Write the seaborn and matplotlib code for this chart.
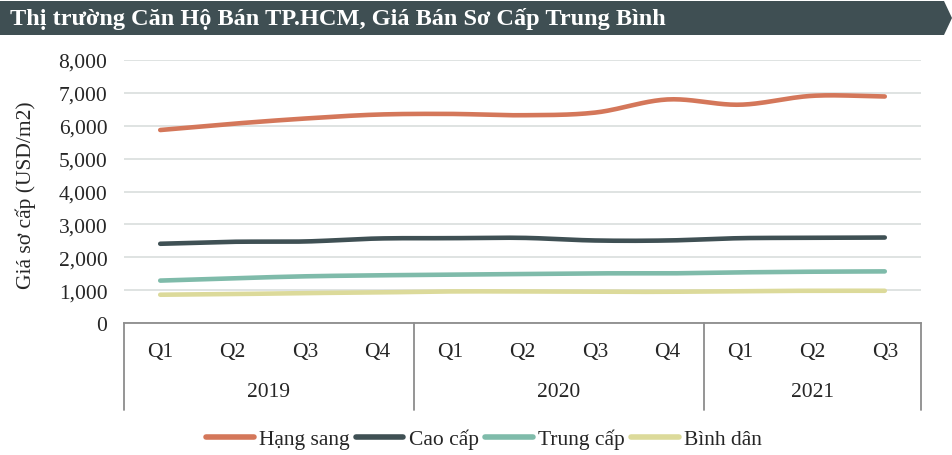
import numpy as np
import pandas as pd
import matplotlib
matplotlib.use("Agg")
import matplotlib.pyplot as plt
from matplotlib.patches import Polygon
from matplotlib.lines import Line2D
import seaborn as sns

# data
quarters = ["Q1", "Q2", "Q3", "Q4", "Q1", "Q2", "Q3", "Q4", "Q1", "Q2", "Q3"]
years = ["2019", "2020", "2021"]
year_sizes = [4, 4, 3]

hang_sang = [5870, 6060, 6220, 6340, 6360, 6320, 6400, 6800, 6640, 6910, 6890]
cao_cap = [2410, 2470, 2480, 2570, 2580, 2590, 2510, 2510, 2580, 2590, 2600]
trung_cap = [1290, 1360, 1420, 1450, 1470, 1490, 1510, 1510, 1540, 1560, 1570]
binh_dan = [860, 880, 910, 930, 960, 960, 950, 950, 970, 980, 980]

series_names = ["Hạng sang", "Cao cấp", "Trung cấp", "Bình dân"]
series_values = [hang_sang, cao_cap, trung_cap, binh_dan]
colors = ["#D4775A", "#3F5054", "#7FBBAA", "#DCDA9A"]

title = "Thị trường Căn Hộ Bán TP.HCM, Giá Bán Sơ Cấp Trung Bình"
ylabel = "Giá sơ cấp (USD/m2)"


def smooth(y, steps=24):
    # catmull-rom style smoothing like Excel's "smoothed line"
    y = np.asarray(y, dtype=float)
    x = np.arange(len(y), dtype=float)
    p = np.concatenate([[2 * y[0] - y[1]], y, [2 * y[-1] - y[-2]]])
    xs, ys = [], []
    for i in range(len(y) - 1):
        p0, p1, p2, p3 = p[i], p[i + 1], p[i + 2], p[i + 3]
        c1 = p1 + (p2 - p0) / 6
        c2 = p2 - (p3 - p1) / 6
        t = np.linspace(0, 1, steps)
        b = (1 - t) ** 3 * p1 + 3 * (1 - t) ** 2 * t * c1 + 3 * (1 - t) * t ** 2 * c2 + t ** 3 * p2
        xs.append(x[i] + t)
        ys.append(b)
    return np.concatenate(xs), np.concatenate(ys)


rows = []
for name, vals in zip(series_names, series_values):
    sx, sy = smooth(vals)
    rows.append(pd.DataFrame({"x": sx, "y": sy, "series": name}))
df = pd.concat(rows, ignore_index=True)

sns.set_theme(style="white")
plt.rcParams["font.family"] = ["Liberation Serif", "DejaVu Serif"]

FS = 15.5
W, H = 952, 456
fig = plt.figure(figsize=(W / 100, H / 100), dpi=100)
ax = fig.add_axes([124 / W, 1 - 324 / H, 797 / W, 263 / H])

sns.lineplot(data=df, x="x", y="y", hue="series", hue_order=series_names,
             palette=dict(zip(series_names, colors)), linewidth=3.3,
             estimator=None, sort=False, legend=False, ax=ax)
for line in ax.lines:
    line.set_solid_capstyle("round")

ax.set_xlim(-0.5, len(quarters) - 0.5)
ax.set_ylim(0, 8000)
ax.set_yticks(range(0, 8001, 1000))
ax.set_yticklabels([f"{v:,}" for v in range(0, 8001, 1000)], fontsize=FS)
ax.tick_params(axis="y", length=0, pad=12)
ax.set_xticks([])
ax.set_xlabel("")
ax.yaxis.grid(True, color="#DCE1DF", linewidth=1.3)
ax.set_axisbelow(True)
for s in ["left", "right", "top"]:
    ax.spines[s].set_visible(False)
ax.spines["bottom"].set_color("#8C8C8C")
ax.spines["bottom"].set_linewidth(1.3)

ax.set_ylabel(ylabel, fontsize=FS)
ax.yaxis.set_label_coords(-0.11, 0.49)

# two-level category axis
trans = ax.get_xaxis_transform()
for i, q in enumerate(quarters):
    ax.text(i, -0.11, q, transform=trans, ha="center", va="center", fontsize=FS)
start = 0
edges = [-0.5]
for yr, n in zip(years, year_sizes):
    ax.text(start + (n - 1) / 2, -0.262, yr, transform=trans, ha="center",
            va="center", fontsize=FS)
    start += n
    edges.append(start - 0.5)
for e in edges:
    ax.plot([e, e], [0, -0.331], transform=trans, color="#8C8C8C",
            linewidth=1.3, clip_on=False)

handles = [Line2D([0], [0], color=c, linewidth=4, solid_capstyle="round") for c in colors]
fig.legend(handles, series_names, loc="center", bbox_to_anchor=(484 / W, 1 - 440 / H),
           ncol=4, frameon=False, fontsize=FS, handlelength=2.2,
           handletextpad=0.25, columnspacing=0.3)

# title bar
pts = [(0, 2), (944, 2), (952, 19), (944, 36), (0, 36)]
fig.patches.append(Polygon([(x / W, 1 - y / H) for x, y in pts], closed=True,
                           transform=fig.transFigure, facecolor="#3F4F53",
                           edgecolor="none"))
fig.text(10 / W, 1 - 19 / H, title, color="white", fontsize=17.5, fontweight="bold",
         ha="left", va="center")

fig.savefig("out.png", dpi=100, facecolor="white")
